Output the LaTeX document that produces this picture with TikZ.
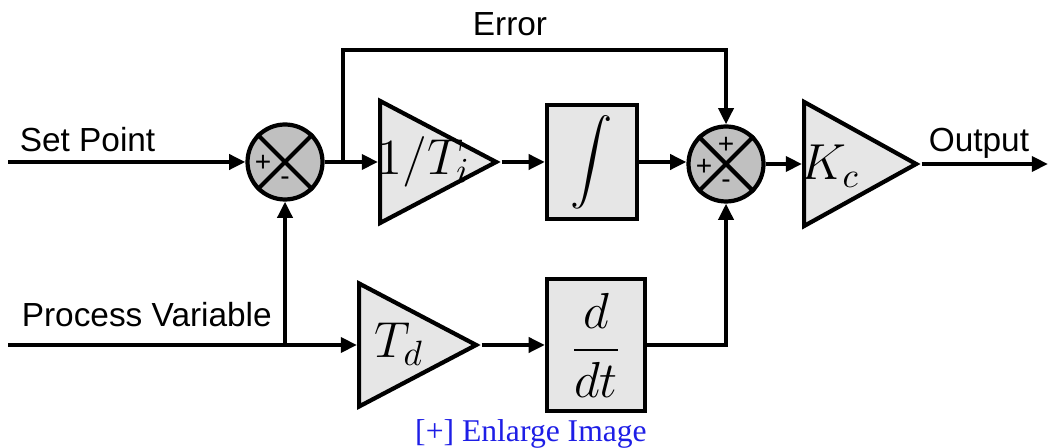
\documentclass[tikz,border=0pt]{standalone}
\usepackage{amsmath}
\usepackage{fontspec}
\setmainfont{Liberation Sans}
\newfontfamily\linkfont{Liberation Serif}
\usetikzlibrary{arrows.meta,positioning,calc,shapes.geometric}
\definecolor{sumgray}{RGB}{192,192,192}
\definecolor{blockgray}{RGB}{230,230,230}
\definecolor{linkblue}{RGB}{30,30,230}

\begin{document}
\begin{tikzpicture}[x=0.1mm, y=-0.1mm, line width=1.2pt,
  every node/.style={font=\fontsize{9.5}{11}\selectfont},
  flow/.style={-{Triangle[length=4.6pt,width=4.2pt]}},
  sumnode/.style={circle, draw, fill=sumgray, minimum size=7.5mm, inner sep=0pt},
  sign/.style={font=\fontsize{8}{8}\selectfont, inner sep=0pt},
  gain/.style={isosceles triangle, isosceles triangle stretches, draw, fill=blockgray,
    inner sep=0pt, anchor=west},
  mathlbl/.style={inner sep=0pt, font=\fontsize{14}{16}\selectfont},
  opbox/.style={draw, fill=blockgray, inner sep=0pt, font=\fontsize{14}{16}\selectfont}]
  \useasboundingbox (0,0) rectangle (1048,448);
  % summing junctions
  \node[sumnode] (sum1) at (285,162) {};
  \node[sumnode] (sum2) at (726,164) {};
  \draw (sum1.north west) -- (sum1.south east) (sum1.north east) -- (sum1.south west);
  \draw (sum2.north west) -- (sum2.south east) (sum2.north east) -- (sum2.south west);
  \node[sign] at ($(sum1)+(-22,1)$) {+};
  \node[sign] at ($(sum1)+(0,19)$) {-};
  \node[sign] at ($(sum2)+(0,-19)$) {+};
  \node[sign] at ($(sum2)+(-22,3)$) {+};
  \node[sign] at ($(sum2)+(0,20)$) {-};
  % blocks
  \node[gain, minimum width=12.2mm, minimum height=11.6mm] (inv) at (378,162) {};
  \node[mathlbl] (invlbl) at (424,162) {$1/T_i$};
  \node[opbox, minimum width=9mm, minimum height=11.4mm, font=\fontsize{11.5}{13}\selectfont] (intbox) at (592,162) {$\displaystyle\int$};
  \node[gain, minimum width=12.3mm, minimum height=11.7mm] (td) at (357,345) {};
  \node[mathlbl] (tdlbl) at (399,344) {$T_d$};
  \node[opbox, minimum width=9.8mm, minimum height=13.2mm] (ddt) at (596,345) {$\displaystyle\frac{d}{dt}$};
  \node[gain, minimum width=12.4mm, minimum height=11.2mm] (kc) at (802,164) {};
  \node[mathlbl] (kclbl) at (830,166) {$K_c$};
  % ends and taps
  \coordinate (sp) at (8,162);
  \coordinate (pv) at (8,345);
  \coordinate (out) at (1048,164);
  \coordinate (errtap) at (343,162);
  \coordinate (errtop) at (343,50);
  \coordinate (pvtap) at (285,345);
  % connectors
  \draw[flow] (sp) -- (sum1.west);
  \draw[flow] (sum1.east) -- (inv.west);
  \draw[flow] (errtap) -- (errtop) -| (sum2.north);
  \draw[flow] (inv.east) -- (intbox.west);
  \draw[flow] (intbox.east) -- (intbox.east -| sum2.west);
  \draw[flow] (sum2.east) -- (kc.west);
  \draw[flow] (kc.east) -- (out);
  \draw[flow] (pv) -- (td.west);
  \draw[flow] (pvtap) -- (sum1.south);
  \draw[flow] (td.east) -- (ddt.west);
  \draw[flow] (ddt.east) -| (sum2.south);
  % labels
  \node[anchor=base west] (splbl) at (6,152) {Set Point};
  \node[anchor=base west] (pvlbl) at (8,327) {Process Variable};
  \node[anchor=base] (errlbl) at (510,36) {Error};
  \node[anchor=base west] (outlbl) at (915,152) {Output};
  \node[anchor=base, font=\linkfont\fontsize{9}{11}\selectfont, text=linkblue] (enlarge) at (531,442) {\underline{[+] Enlarge Image}};
\end{tikzpicture}
\end{document}
